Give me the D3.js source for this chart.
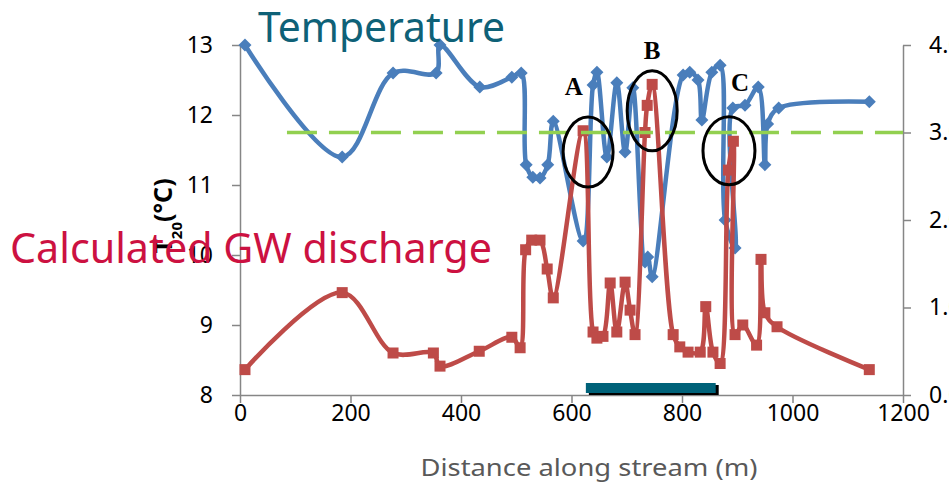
<!DOCTYPE html>
<html>
<head>
<meta charset="utf-8">
<script src="https://cdn.jsdelivr.net/npm/d3@7"></script>
<style>
  body { margin: 0; background: #fff; }
  svg { display: block; font-family: "Noto Sans", "Open Sans", sans-serif; }
</style>
</head>
<body>
<div id="chart"></div>
<script>
// Stream temperature (left axis, °C) by distance along stream (m)
const tempDist = [9, 185, 277, 355, 362, 434, 492, 509, 518, 530, 543, 557, 567, 621, 639, 646, 664, 682, 697, 711,
                  733, 738, 746, 802, 814, 829, 836, 854, 869, 878, 896, 892, 914, 938, 950, 955, 975, 1139];
const tempVals = [13.0, 11.4, 12.6, 12.6, 13.0, 12.4, 12.54, 12.6, 11.29, 11.11, 11.1, 11.29, 11.91, 10.2, 12.43, 12.61, 11.4, 12.46, 11.47, 12.39,
                  9.9, 9.97, 9.69, 12.57, 12.61, 12.5, 11.93, 12.61, 12.71, 10.5, 10.1, 12.1, 12.14, 12.4, 11.29, 11.87, 12.1, 12.19];

// Calculated groundwater discharge (right axis) by distance along stream (m)
const gwDist = [9, 185, 277, 350, 362, 433, 492, 507, 517, 528, 543, 556, 567, 621, 639, 646, 657, 670, 682, 697, 706, 715,
                733, 737, 746, 784, 796, 811, 833, 843, 856, 869, 884, 893, 896, 910, 935, 943, 950, 972, 1139];
const gwVals = [0.29, 1.17, 0.48, 0.48, 0.33, 0.5, 0.66, 0.54, 1.66, 1.77, 1.77, 1.44, 1.11, 3.02, 0.72, 0.65, 0.67, 1.28, 0.72, 1.29, 0.97, 0.69,
                3.0, 3.31, 3.55, 0.69, 0.55, 0.49, 0.49, 1.01, 0.49, 0.36, 2.57, 2.9, 0.69, 0.8, 0.57, 1.55, 0.94, 0.78, 0.29];

// dashed threshold on the right axis, and the highlighted reach (m)
const thresholdDist = [85, 1200];
const thresholdVal = 3.0;
const reach = [626, 861];

// circled zones: label, centre distance, centre temperature, label distance, label temperature
const zoneNames = ["A", "B", "C"];
const zoneDist = [630, 746, 885];
const zoneTemp = [11.47, 12.06, 11.49];
const zoneLabelDist = [604, 746, 905];
const zoneLabelTemp = [12.29, 12.8, 12.34];

const xTicks = [0, 200, 400, 600, 800, 1000, 1200];
const leftTicks = [8, 9, 10, 11, 12, 13];
const rightTicks = [0, 1, 2, 3, 4];

const W = 949, H = 492;
const svg = d3.select("#chart").append("svg")
    .attr("width", W).attr("height", H);

const x = d3.scaleLinear().domain([0, 1200]).range([240, 903]);
const yT = d3.scaleLinear().domain([8, 13]).range([395, 45]);
const yQ = d3.scaleLinear().domain([0, 4]).range([395, 45]);

const axisColor = "#868686";

function styleAxis(g) {
  g.selectAll("path, line").attr("stroke", axisColor).attr("stroke-width", 1.5);
  g.selectAll("text").attr("fill", "#000").style("font-size", "23px")
    .style("font-family", '"Noto Sans", sans-serif');
}

// axes
svg.append("g")
    .attr("transform", "translate(0,395)")
    .call(d3.axisBottom(x).tickValues(xTicks).tickFormat(d3.format("d")).tickSize(8).tickSizeOuter(0).tickPadding(2))
    .call(styleAxis);

svg.append("g")
    .attr("transform", "translate(240,0)")
    .call(d3.axisLeft(yT).tickValues(leftTicks).tickFormat(d3.format("d")).tickSize(8).tickSizeOuter(0).tickPadding(19))
    .call(styleAxis);

svg.append("g")
    .attr("transform", "translate(903,0)")
    .call(d3.axisRight(yQ).tickValues(rightTicks).tickFormat(d3.format(".1f")).tickSize(8).tickSizeOuter(0).tickPadding(18))
    .call(styleAxis);

// highlighted reach bar with shadow
svg.append("rect")
    .attr("x", x(reach[0]) + 3).attr("y", 385)
    .attr("width", x(reach[1]) - x(reach[0])).attr("height", 10)
    .attr("fill", "#000");
svg.append("rect")
    .attr("x", x(reach[0])).attr("y", 383)
    .attr("width", x(reach[1]) - x(reach[0])).attr("height", 10)
    .attr("fill", "#006279");

// temperature series
const tempData = tempDist.map((d, i) => [d, tempVals[i]]);
const gwData = gwDist.map((d, i) => [d, gwVals[i]]);

const tempLine = d3.line().x(d => x(d[0])).y(d => yT(d[1])).curve(d3.curveCatmullRom.alpha(0.5));
const gwLine = d3.line().x(d => x(d[0])).y(d => yQ(d[1])).curve(d3.curveCatmullRom.alpha(0.5));

svg.append("path")
    .datum(tempData)
    .attr("d", tempLine)
    .attr("fill", "none")
    .attr("stroke", "#4a7ebb")
    .attr("stroke-width", 4.5)
    .attr("stroke-linejoin", "round");

svg.append("g").selectAll("path")
    .data(tempData)
    .enter().append("path")
    .attr("transform", d => `translate(${x(d[0])},${yT(d[1])})`)
    .attr("d", "M0,-6.5L6.5,0L0,6.5L-6.5,0Z")
    .attr("fill", "#4a7ebb");

// groundwater discharge series
svg.append("path")
    .datum(gwData)
    .attr("d", gwLine)
    .attr("fill", "none")
    .attr("stroke", "#be4b48")
    .attr("stroke-width", 4.5)
    .attr("stroke-linejoin", "round");

svg.append("g").selectAll("rect")
    .data(gwData)
    .enter().append("rect")
    .attr("x", d => x(d[0]) - 5.5)
    .attr("y", d => yQ(d[1]) - 5.5)
    .attr("width", 11).attr("height", 11)
    .attr("fill", "#be4b48");

// dashed threshold
svg.append("line")
    .attr("x1", x(thresholdDist[0])).attr("x2", x(thresholdDist[1]))
    .attr("y1", yQ(thresholdVal)).attr("y2", yQ(thresholdVal))
    .attr("stroke", "#92d050")
    .attr("stroke-width", 3.5)
    .attr("stroke-dasharray", "30,12");

// circled zones
const zoneR = [[25, 35], [25, 40], [26, 34]];
svg.append("g").selectAll("ellipse")
    .data(zoneNames)
    .enter().append("ellipse")
    .attr("cx", (d, i) => x(zoneDist[i]))
    .attr("cy", (d, i) => yT(zoneTemp[i]))
    .attr("rx", (d, i) => zoneR[i][0])
    .attr("ry", (d, i) => zoneR[i][1])
    .attr("fill", "none")
    .attr("stroke", "#000")
    .attr("stroke-width", 3);

svg.append("g").selectAll("text")
    .data(zoneNames)
    .enter().append("text")
    .attr("x", (d, i) => x(zoneLabelDist[i]))
    .attr("y", (d, i) => yT(zoneLabelTemp[i]))
    .attr("text-anchor", "middle")
    .style("font-family", '"Liberation Serif", "Times New Roman", serif')
    .style("font-weight", "bold")
    .style("font-size", "25px")
    .text(d => d);

// axis titles
svg.append("text")
    .attr("x", 589).attr("y", 476)
    .attr("text-anchor", "middle")
    .attr("fill", "#595959")
    .style("font-size", "24px")
    .attr("textLength", 337)
    .attr("lengthAdjust", "spacingAndGlyphs")
    .text("Distance along stream (m)");

const yLab = svg.append("text")
    .attr("transform", "translate(172,216) rotate(-90)")
    .attr("text-anchor", "middle")
    .attr("fill", "#000")
    .style("font-size", "25px")
    .style("font-weight", "bold");
yLab.append("tspan").text("T");
yLab.append("tspan").attr("baseline-shift", "sub").style("font-size", "15px").text("20");
yLab.append("tspan").text("(°C)");

// series titles
svg.append("text")
    .attr("x", 258).attr("y", 42)
    .attr("fill", "#0e6177")
    .style("font-size", "42px")
    .attr("textLength", 247)
    .attr("lengthAdjust", "spacingAndGlyphs")
    .text("Temperature");

svg.append("text")
    .attr("x", 10).attr("y", 263)
    .attr("fill", "#cc1141")
    .style("font-size", "42px")
    .attr("textLength", 482)
    .attr("lengthAdjust", "spacingAndGlyphs")
    .text("Calculated GW discharge");
</script>
</body>
</html>
